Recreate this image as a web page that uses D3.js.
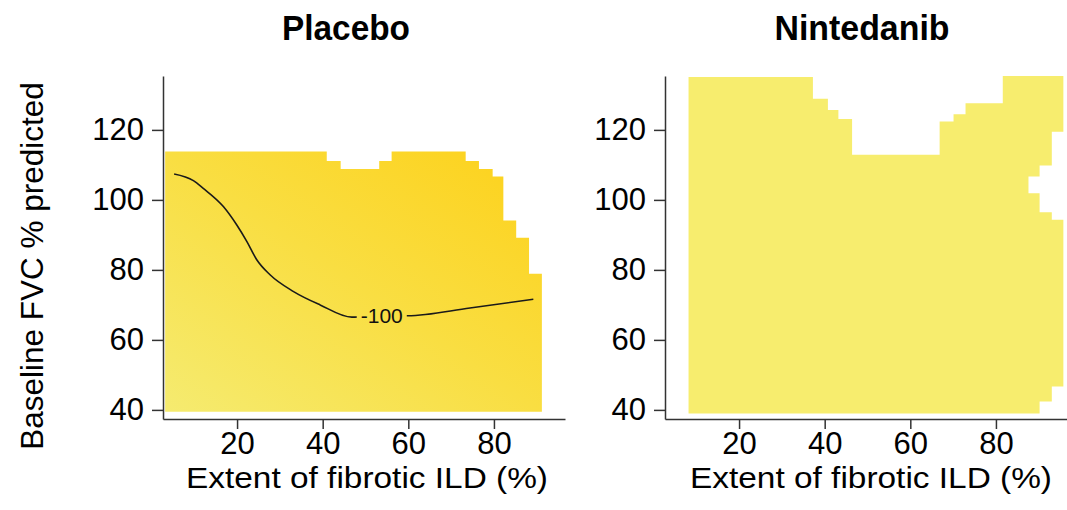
<!DOCTYPE html>
<html>
<head>
<meta charset="utf-8">
<script src="https://cdn.jsdelivr.net/npm/d3@7"></script>
<style>
  html, body { margin: 0; padding: 0; background: #fff; }
  svg { display: block; font-family: "Liberation Sans", Arial, sans-serif; }
</style>
</head>
<body>
<svg id="chart" width="1067" height="510"></svg>
<script>
// Axis ranges and ticks
const xDomain = [2.7, 96.6];
const yDomain = [37.4, 135.4];
const xTicks = [20, 40, 60, 80];
const yTicks = [40, 60, 80, 100, 120];

// Placebo: region where predictions exist (column edges along x, top of each column)
const placeboEdgesX = [3.2, 40.95, 44.2, 53.2, 56.1, 73.4, 76.5, 79.7, 82.2, 85.2, 88.2, 91.2];
const placeboTop = [113.8, 111.1, 108.8, 111.1, 113.8, 111.1, 108.8, 106.7, 94.1, 89.2, 78.9];
const placeboBottom = 39.5;

// Placebo: shading from low-left (light) to high-right (deep yellow)
const placeboStops = [0, 0.5, 1];
const placeboColors = ["#f5eb70", "#f9de42", "#fdd11a"];

// Placebo: -100 contour of predicted change
const contourX = [5.3, 9.8, 12.1, 16.8, 19.9, 22.3, 24.6, 27.7, 33.2, 39.4, 46.8, 53.8, 59.8, 74.4, 89.2];
const contourY = [107.4, 105.5, 103.3, 98.1, 92.9, 88.1, 82.9, 78.6, 73.8, 70.0, 66.5, 66.9, 66.9, 69.1, 71.6];
const contourLabel = "-100";
const contourLabelAt = [53.8, 67.1];

// Nintedanib: region where predictions exist
const ninEdgesX = [8.2, 37.25, 40.75, 43.2, 46.4, 66.85, 70.1, 72.9, 81.6, 95.75];
const ninTop = [135.1, 128.9, 125.7, 123.1, 112.9, 122.4, 124.5, 127.6, 135.4];
const ninRightY = [135.4, 119.5, 109.8, 106.7, 101.9, 96.5, 94.3, 46.7, 42.4, 39.0];
const ninRightX = [95.75, 93.05, 90.2, 87.6, 90.2, 93.05, 95.75, 93.05, 90.2];
const ninBottom = 39.0;
const ninColor = "#f7ed6e";

const panelTitles = ["Placebo", "Nintedanib"];
const xTitle = "Extent of fibrotic ILD (%)";
const yTitle = "Baseline FVC % predicted";

const svg = d3.select("#chart");
const FONT = 30;

const panels = [
  { left: 163, right: 565, title: panelTitles[0], titleX: 346, titleW: 128, xTitleX: 367 },
  { left: 665, right: 1067, title: panelTitles[1], titleX: 862, titleW: 175, xTitleX: 871 }
];
const plotTop = 76, plotBottom = 419;

const y = d3.scaleLinear().domain(yDomain).range([plotBottom, plotTop]);

// Outline of a region made of columns with a flat bottom
function columnOutline(edges, tops, base) {
  const pts = [[edges[0], base]];
  tops.forEach((t, i) => { pts.push([edges[i], t], [edges[i + 1], t]); });
  pts.push([edges[edges.length - 1], base]);
  return pts;
}

// Outline with stepped top and stepped right side
function steppedOutline(edges, tops, rightY, rightX, base) {
  const pts = [[edges[0], base]];
  tops.forEach((t, i) => { pts.push([edges[i], t], [edges[i + 1], t]); });
  rightX.forEach((rx, i) => { pts.push([rx, rightY[i]], [rx, rightY[i + 1]]); });
  pts.push([edges[0], base]);
  return pts;
}

const defs = svg.append("defs");
const grad = defs.append("linearGradient")
  .attr("id", "placeboShade")
  .attr("x1", 0).attr("y1", 1).attr("x2", 1).attr("y2", 0);
placeboStops.forEach((s, i) => grad.append("stop").attr("offset", s).attr("stop-color", placeboColors[i]));

panels.forEach((p, idx) => {
  const x = d3.scaleLinear().domain(xDomain).range([p.left, p.right]);
  const g = svg.append("g");
  const line = d3.line().x(d => x(d[0])).y(d => y(d[1]));

  if (idx === 0) {
    g.append("path")
      .attr("d", line(columnOutline(placeboEdgesX, placeboTop, placeboBottom)) + "Z")
      .attr("fill", "url(#placeboShade)");

    // contour label, then contour line with a gap around it
    const lbl = g.append("text")
      .attr("x", x(contourLabelAt[0])).attr("y", y(contourLabelAt[1]))
      .attr("text-anchor", "middle").attr("dominant-baseline", "central")
      .attr("font-size", 21).attr("fill", "#111")
      .text(contourLabel);
    const bb = lbl.node().getBBox();
    const mask = defs.append("mask").attr("id", "contourGap").attr("maskUnits", "userSpaceOnUse")
      .attr("x", 0).attr("y", 0).attr("width", 1067).attr("height", 510);
    mask.append("rect").attr("x", 0).attr("y", 0).attr("width", 1067).attr("height", 510).attr("fill", "#fff");
    mask.append("rect").attr("x", bb.x - 4).attr("y", bb.y).attr("width", bb.width + 8).attr("height", bb.height).attr("fill", "#000");

    const cLine = d3.line().x(d => x(d[0])).y(d => y(d[1])).curve(d3.curveMonotoneX);
    g.append("path")
      .attr("d", cLine(contourX.map((v, i) => [v, contourY[i]])))
      .attr("fill", "none").attr("stroke", "#1a1a1a").attr("stroke-width", 1.6)
      .attr("mask", "url(#contourGap)");
  } else {
    g.append("path")
      .attr("d", line(steppedOutline(ninEdgesX, ninTop, ninRightY, ninRightX, ninBottom)) + "Z")
      .attr("fill", ninColor);
  }

  // axes
  const xAxis = d3.axisBottom(x).tickValues(xTicks).tickSize(10).tickPadding(3).tickSizeOuter(0);
  const yAxis = d3.axisLeft(y).tickValues(yTicks).tickSize(11).tickPadding(8).tickSizeOuter(0);
  const gx = g.append("g").attr("transform", `translate(0,${plotBottom})`).call(xAxis);
  const gy = g.append("g").attr("transform", `translate(${p.left},0)`).call(yAxis);
  [gx, gy].forEach(a => {
    a.select(".domain").attr("stroke", "#333").attr("stroke-width", 1.5);
    a.selectAll(".tick line").attr("stroke", "#333").attr("stroke-width", 1.5);
    a.selectAll(".tick text").attr("font-size", 31).attr("fill", "#000")
      .attr("font-family", "'Liberation Sans', Arial, sans-serif");
  });

  // titles
  svg.append("text").attr("x", p.titleX).attr("y", 40)
    .attr("text-anchor", "middle").attr("font-size", 35).attr("font-weight", "bold")
    .attr("textLength", p.titleW).attr("lengthAdjust", "spacingAndGlyphs")
    .text(p.title);
  svg.append("text").attr("x", p.xTitleX).attr("y", 488)
    .attr("text-anchor", "middle").attr("font-size", FONT)
    .attr("textLength", 362).attr("lengthAdjust", "spacingAndGlyphs")
    .text(xTitle);
});

svg.append("text")
  .attr("transform", "translate(43,266) rotate(-90)")
  .attr("text-anchor", "middle").attr("font-size", 31.5)
  .text(yTitle);
</script>
</body>
</html>
